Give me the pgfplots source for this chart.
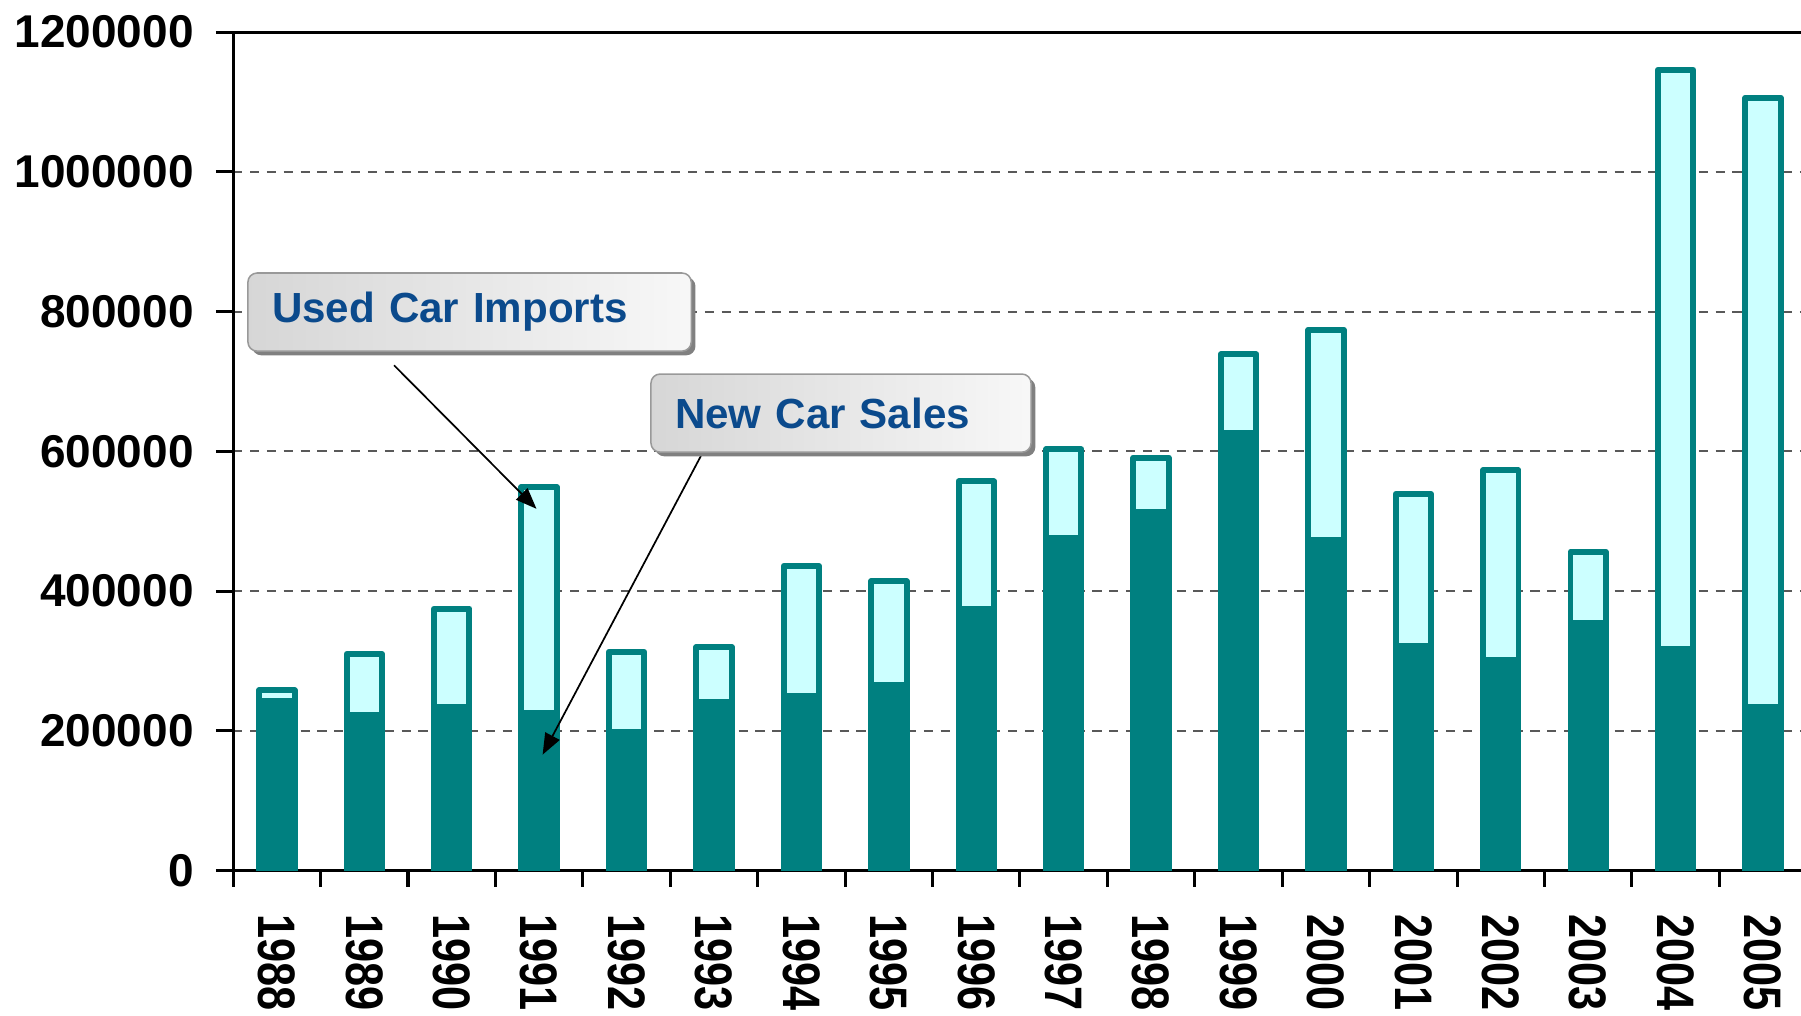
\documentclass[border=0pt]{standalone}
\usepackage{pgfplots}
\pgfplotsset{compat=1.18}
\usepackage{pgfplotstable}
\usepackage{fontspec}
\setmainfont{Liberation Sans}
\usetikzlibrary{arrows.meta,shadows}

\definecolor{tealc}{RGB}{0,128,128}
\definecolor{lightc}{RGB}{204,255,255}
\definecolor{navyc}{RGB}{11,74,140}

\tikzset{
    callout/.style={draw=black!40, line width=0.4pt, rounded corners=2.4pt,
        left color=black!16, right color=black!3,
        general shadow={fill=black!50, shadow xshift=1.1pt, shadow yshift=-1.1pt},
        minimum height=20.4pt, inner xsep=6.3pt, align=left, anchor=north west,
        text=navyc, font=\fontsize{11}{13}\selectfont\bfseries},
    pointer/.style={line width=0.45pt, -{Triangle[length=5.5pt,width=4.2pt]}},
}

% new car sales and used car imports per year
\pgfplotstableread{
year new used
1988 243000 15000
1989 223000 87000
1990 234000 141000
1991 226000 323000
1992 199000 114000
1993 242000 78000
1994 250000 186000
1995 265000 149000
1996 374000 183000
1997 476000 127000
1998 514000 77000
1999 626000 113000
2000 473000 301000
2001 322000 217000
2002 302000 271000
2003 354000 102000
2004 317000 829000
2005 234000 872000
}\cardata

\begin{document}
\begin{tikzpicture}
\begin{axis}[
    scale only axis,
    width=411pt, height=219pt,
    xmin=1987.5, xmax=2005.5,
    ymin=0, ymax=1200000,
    ybar stacked,
    bar width=9.25pt,
    axis line style={black, line width=0.8pt},
    tick align=outside,
    xtick pos=bottom, ytick pos=left,
    xtick={1988,...,2005},
    major x tick style={draw=none},
    minor xtick={1987.5,1988.5,...,2005.5},
    minor x tick style={black, line width=0.8pt},
    minor tick length=4.2pt,
    major tick length=4.5pt,
    ytick={0,200000,...,1200000},
    major y tick style={black, line width=0.8pt},
    ymajorgrids,
    major grid style={black!65, line width=0.5pt, dash pattern=on 2.4pt off 2pt},
    scaled y ticks=false,
    /pgf/number format/assume math mode=true,
    yticklabel style={/pgf/number format/fixed, /pgf/number format/1000 sep={},
        font=\fontsize{12}{14}\selectfont\bfseries},
    yticklabel shift=2.3pt,
    xticklabel={\scalebox{1}[1.22]{\pgfmathtruncatemacro\yr{\tick+0.5}\yr}},
    xticklabel style={rotate=-90, anchor=west,
        font=\fontsize{11.3}{13}\selectfont\bfseries},
    xticklabel shift=3.4pt,
]
\addplot[fill=tealc, draw=tealc, line width=1.56pt, line join=round]
    table[x=year, y=new]{\cardata};
\addplot[fill=lightc, draw=tealc, line width=1.56pt, line join=round]
    table[x=year, y=used]{\cardata};

\coordinate (u0) at (axis cs:1989.34,723300);
\coordinate (u1) at (axis cs:1990.97,517800);
\coordinate (n0) at (axis cs:1992.85,593400);
\coordinate (n1) at (axis cs:1991.04,166000);
\coordinate (ub) at (axis cs:1987.66,856400);
\coordinate (nb) at (axis cs:1992.27,711800);
\coordinate (pl) at (rel axis cs:0,0);
\coordinate (pr) at (rel axis cs:1,1);
\end{axis}
\draw[pointer] (u0) -- (u1);
\draw[pointer] (n0) -- (n1);
\node[callout, text width=103.2pt] at (ub) {Used Car Imports};
\node[callout, text width=86.7pt] at (nb) {New Car Sales};
\pgfresetboundingbox
\path[use as bounding box] ([xshift=-60.9pt,yshift=-37.8pt]pl) rectangle ([xshift=-1.5pt,yshift=8.4pt]pr);
\end{tikzpicture}
\end{document}
